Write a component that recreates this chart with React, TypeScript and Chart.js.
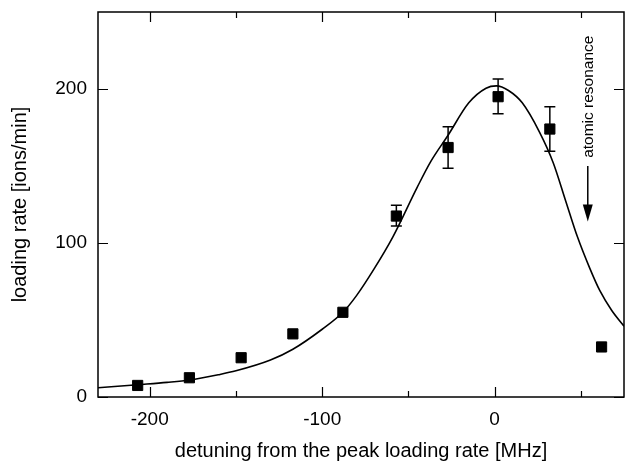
import React, { useEffect, useRef } from "react";
import { Chart, registerables } from "chart.js";

Chart.register(...registerables);

// Measured loading rates
const measuredDetuning = [-207, -177, -147, -117, -88, -57, -27, 2, 32, 62];
const measuredRate = [7.5, 12.5, 25.5, 41, 55, 117.5, 162, 195, 174, 32.5];

// Error bars (only where visible)
const errorDetuning = [-57, -27, 2, 32];
const errorLow = [111, 148.5, 184, 159.5];
const errorHigh = [124.5, 175.5, 206.5, 188.5];

// Fitted curve
const fitDetuning = [-230, -207, -190, -177, -160, -150, -130, -117, -100, -88, -80, -70, -59, -45, -37, -27, -15, -5, 1, 8, 16, 26, 34, 41, 48, 55, 61, 68, 75];
const fitRate = [6, 8, 9.5, 11, 14.5, 17, 24, 31, 44, 55, 66, 83, 104, 136, 153, 170, 191, 200.5, 202, 199, 191, 172, 152, 128, 104, 84, 69, 56, 46];

// Axes
const xRange = [-230, 75];
const yRange = [0, 250];
const xMajorTicks = [-200, -100, 0];
const xMinorTicks = [-150, -50, 50];
const yMajorTicks = [0, 100, 200];

// Annotation (in data units)
const annotationText = "atomic resonance";
const annotationDetuning = 54;
const annotationTextCenter = 195;
const arrowStart = 150;
const arrowTip = 114;

const FONT = "'Liberation Sans', Arial, Helvetica, sans-serif";

const zeroPadding = (scale: any) => {
  scale.paddingTop = 0;
  scale.paddingBottom = 0;
  scale.paddingLeft = 0;
  scale.paddingRight = 0;
};

const framePlugin = {
  id: "framePlugin",
  afterDatasetsDraw(chart: any) {
    const { ctx, chartArea, scales } = chart;
    const xs = scales.x;
    const ys = scales.y;
    const { left, right, top, bottom } = chartArea;
    ctx.save();
    ctx.strokeStyle = "#000";
    ctx.lineWidth = 1.5;
    ctx.strokeRect(left, top, right - left, bottom - top);
    ctx.lineWidth = 1.2;
    ctx.beginPath();
    const drawX = (v: number, len: number) => {
      const px = Math.round(xs.getPixelForValue(v)) + 0.5;
      ctx.moveTo(px, bottom);
      ctx.lineTo(px, bottom - len);
      ctx.moveTo(px, top);
      ctx.lineTo(px, top + len);
    };
    xMajorTicks.forEach((v) => drawX(v, 10));
    xMinorTicks.forEach((v) => drawX(v, 6));
    yMajorTicks.forEach((v) => {
      const py = Math.round(ys.getPixelForValue(v)) + 0.5;
      ctx.moveTo(left, py);
      ctx.lineTo(left + 10, py);
      ctx.moveTo(right, py);
      ctx.lineTo(right - 10, py);
    });
    ctx.stroke();

    // error bars
    ctx.lineWidth = 1.5;
    ctx.beginPath();
    errorDetuning.forEach((d, i) => {
      const px = xs.getPixelForValue(d);
      const pl = ys.getPixelForValue(errorLow[i]);
      const ph = ys.getPixelForValue(errorHigh[i]);
      ctx.moveTo(px, pl);
      ctx.lineTo(px, ph);
      ctx.moveTo(px - 5.5, pl);
      ctx.lineTo(px + 5.5, pl);
      ctx.moveTo(px - 5.5, ph);
      ctx.lineTo(px + 5.5, ph);
    });
    ctx.stroke();

    // annotation arrow
    const ax = xs.getPixelForValue(annotationDetuning);
    const a0 = ys.getPixelForValue(arrowStart);
    const a1 = ys.getPixelForValue(arrowTip);
    ctx.lineWidth = 1.5;
    ctx.beginPath();
    ctx.moveTo(ax, a0);
    ctx.lineTo(ax, a1 - 14);
    ctx.stroke();
    ctx.fillStyle = "#000";
    ctx.beginPath();
    ctx.moveTo(ax - 5, a1 - 17);
    ctx.lineTo(ax + 5, a1 - 17);
    ctx.lineTo(ax, a1);
    ctx.closePath();
    ctx.fill();

    // annotation text
    const ty = ys.getPixelForValue(annotationTextCenter);
    ctx.translate(ax + 1, ty);
    ctx.rotate(-Math.PI / 2);
    ctx.font = `15.5px ${FONT}`;
    ctx.textAlign = "center";
    ctx.textBaseline = "middle";
    ctx.fillText(annotationText, 0, 0);
    ctx.restore();
  },
};

export default function App() {
  const canvasRef = useRef<HTMLCanvasElement | null>(null);

  useEffect(() => {
    document.body.style.margin = "0";
    const canvas = canvasRef.current;
    if (!canvas) return;
    const chart = new Chart(canvas, {
      type: "scatter",
      data: {
        datasets: [
          {
            label: "measured",
            data: measuredDetuning.map((x, i) => ({ x, y: measuredRate[i] })),
            showLine: false,
            pointStyle: "rect",
            pointRadius: 7.2,
            pointHoverRadius: 7.2,
            backgroundColor: "#000",
            borderColor: "#000",
            borderWidth: 1,
          },
          {
            label: "fit",
            type: "line",
            data: fitDetuning.map((x, i) => ({ x, y: fitRate[i] })),
            showLine: true,
            borderColor: "#000",
            borderWidth: 1.6,
            pointRadius: 0,
            cubicInterpolationMode: "monotone",
            fill: false,
          },
        ],
      } as any,
      options: {
        animation: false,
        responsive: false,
        devicePixelRatio: 1,
        layout: { autoPadding: false, padding: { top: 12, right: 1, left: 0, bottom: 0 } },
        plugins: {
          legend: { display: false },
          tooltip: { enabled: false },
        },
        scales: {
          x: {
            type: "linear",
            min: xRange[0],
            max: xRange[1],
            grid: { display: false, drawTicks: false },
            border: { display: false },
            afterBuildTicks: (scale: any) => {
              scale.ticks = xMajorTicks.map((v) => ({ value: v }));
            },
            afterFit: (scale: any) => {
              scale.height = 69;
              zeroPadding(scale);
            },
            ticks: {
              color: "#000",
              padding: 11,
              maxRotation: 0,
              autoSkip: false,
              font: { family: FONT, size: 19 },
              callback: (v: any) => String(v),
            },
            title: {
              display: true,
              text: "detuning from the peak loading rate [MHz]",
              color: "#000",
              font: { family: FONT, size: 20 },
              padding: { top: 0, bottom: 3 },
            },
          },
          y: {
            type: "linear",
            min: yRange[0],
            max: yRange[1],
            grid: { display: false, drawTicks: false },
            border: { display: false },
            afterBuildTicks: (scale: any) => {
              scale.ticks = yMajorTicks.map((v) => ({ value: v }));
            },
            afterFit: (scale: any) => {
              scale.width = 98;
              zeroPadding(scale);
            },
            ticks: {
              color: "#000",
              padding: 11,
              autoSkip: false,
              font: { family: FONT, size: 19 },
              callback: (v: any) => String(v),
            },
            title: {
              display: true,
              text: "loading rate [ions/min]",
              color: "#000",
              font: { family: FONT, size: 20 },
              padding: { top: 8, bottom: 0 },
            },
          },
        },
      } as any,
      plugins: [framePlugin],
    });
    return () => chart.destroy();
  }, []);

  return <canvas ref={canvasRef} width={625} height={466} style={{ display: "block" }} />;
}
